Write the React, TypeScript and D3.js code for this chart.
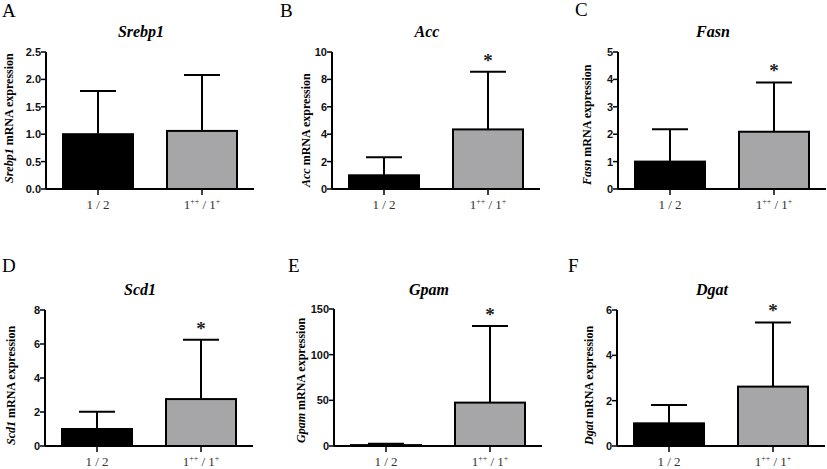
import React from 'react';
import * as d3 from 'd3';

// ---- data ----
const genes = ['Srebp1', 'Acc', 'Fasn', 'Scd1', 'Gpam', 'Dgat'];
const panelLetters = ['A', 'B', 'C', 'D', 'E', 'F'];
const groups = ['1 / 2', '1++ / 1+'];
const ctrlMean = [1.0, 1.0, 1.0, 1.0, 1.0, 1.0];
const ctrlErr = [1.79, 2.32, 2.18, 2.02, 2.5, 1.81];
const treatMean = [1.06, 4.35, 2.09, 2.76, 47.5, 2.62];
const treatErr = [2.08, 8.55, 3.89, 6.25, 131.5, 5.45];
const yMax = [2.5, 10, 5, 8, 150, 6];
const yStep = [0.5, 2, 1, 2, 50, 2];
const tickFormat = ['.1f', 'd', 'd', 'd', 'd', 'd'];
const significant = [false, true, true, true, true, true];

// ---- layout ----
const layout = [
  { ax: 46, top: 52, bottom: 189, lx: 2, ly: 17, yl: 13, ylY: 183, ty: 37 },
  { ax: 332, top: 52, bottom: 189, lx: 280, ly: 17, yl: 310, ylY: 187, ty: 37 },
  { ax: 618, top: 52, bottom: 189, lx: 575, ly: 16, yl: 591, ylY: 185, ty: 37 },
  { ax: 45, top: 310, bottom: 446, lx: 2, ly: 272, yl: 15, ylY: 445, ty: 295 },
  { ax: 334, top: 309, bottom: 446, lx: 288, ly: 272, yl: 305, ylY: 443, ty: 295 },
  { ax: 617, top: 310, bottom: 446, lx: 568, ly: 272, yl: 593, ylY: 445, ty: 295 },
];

const AXIS_LEN = 208;
const BAR_W = 70;
const CAP_W = 36;
const BAR_FILLS = ['#000000', '#a6a6a9'];
const SERIF = '"Liberation Serif", "Times New Roman", serif';
const SANS = '"Liberation Sans", Arial, sans-serif';

function GroupLabel({ text, x, y }: { text: string; x: number; y: number }) {
  const parts = text.split(/(\++)/).filter((p) => p.length > 0);
  let sup = false;
  return (
    <text x={x} y={y} textAnchor="middle" fontFamily={SERIF} fontSize={13} fill="#333">
      {parts.map((p, i) => {
        const isSup = /^\++$/.test(p);
        const dy = isSup && !sup ? -5 : !isSup && sup ? 5 : 0;
        sup = isSup;
        return (
          <tspan key={i} dy={dy} fontSize={isSup ? 8 : 13}>
            {p}
          </tspan>
        );
      })}
    </text>
  );
}

function Panel({ i }: { i: number }) {
  const L = layout[i];
  const y = d3.scaleLinear().domain([0, yMax[i]]).range([L.bottom, L.top]);
  const x = d3.scalePoint<string>().domain(groups).range([L.ax, L.ax + AXIS_LEN]).padding(0.5);
  const ticks = d3.range(0, yMax[i] + yStep[i] / 2, yStep[i]);
  const fmt = d3.format(tickFormat[i]);
  const means = [ctrlMean[i], treatMean[i]];
  const errs = [ctrlErr[i], treatErr[i]];
  return (
    <g>
      <text x={L.lx} y={L.ly} fontFamily={SERIF} fontSize={19}>
        {panelLetters[i]}
      </text>
      <text
        x={L.ax + 95}
        y={L.ty}
        textAnchor="middle"
        fontFamily={SERIF}
        fontSize={16}
        fontWeight="bold"
        fontStyle="italic"
      >
        {genes[i]}
      </text>
      <text
        transform={`translate(${L.yl},${L.ylY}) rotate(-90)`}
        fontFamily={SERIF}
        fontSize={12}
        fontWeight="bold"
      >
        <tspan fontStyle="italic">{genes[i]}</tspan>
        <tspan> mRNA expression</tspan>
      </text>
      {/* bars */}
      {groups.map((g, k) => {
        const cx = x(g)!;
        const top = y(means[k]);
        const et = y(errs[k]);
        return (
          <g key={g}>
            <line x1={cx} x2={cx} y1={top} y2={et} stroke="#000" strokeWidth={2} />
            <line x1={cx - CAP_W / 2} x2={cx + CAP_W / 2} y1={et} y2={et} stroke="#000" strokeWidth={2} />
            <rect
              x={cx - BAR_W / 2}
              y={top}
              width={BAR_W}
              height={Math.max(0, y(0) - top)}
              fill={BAR_FILLS[k]}
              stroke="#000"
              strokeWidth={2}
            />
          </g>
        );
      })}
      {/* y axis */}
      <line x1={L.ax} x2={L.ax} y1={L.top} y2={L.bottom} stroke="#000" strokeWidth={2} />
      {ticks.map((t) => (
        <g key={t}>
          <line x1={L.ax - 5} x2={L.ax} y1={y(t)} y2={y(t)} stroke="#000" strokeWidth={1.5} />
          <text
            x={L.ax - 5}
            y={y(t)}
            dy="0.36em"
            textAnchor="end"
            fontFamily={SANS}
            fontWeight="bold"
            fontSize={11}
            fill="#111"
          >
            {fmt(t)}
          </text>
        </g>
      ))}
      {/* x axis */}
      <line x1={L.ax} x2={L.ax + AXIS_LEN} y1={L.bottom} y2={L.bottom} stroke="#000" strokeWidth={2} />
      {groups.map((g) => (
        <g key={g}>
          <line x1={x(g)!} x2={x(g)!} y1={L.bottom} y2={L.bottom + 6} stroke="#000" strokeWidth={1.5} />
          <GroupLabel text={g} x={x(g)!} y={L.bottom + 20} />
        </g>
      ))}
      {significant[i] && (
        <text
          x={x(groups[1])!}
          y={y(treatErr[i]) - 5}
          textAnchor="middle"
          fontFamily={SERIF}
          fontSize={19}
          fontWeight="bold"
          fill="#222"
        >
          *
        </text>
      )}
    </g>
  );
}

export default function App() {
  return (
    <svg
      width={827}
      height={469}
      style={{ position: 'absolute', left: 0, top: 0, background: '#fff' }}
    >
      <rect width={827} height={469} fill="#fff" />
      {genes.map((_, i) => (
        <Panel key={i} i={i} />
      ))}
    </svg>
  );
}
